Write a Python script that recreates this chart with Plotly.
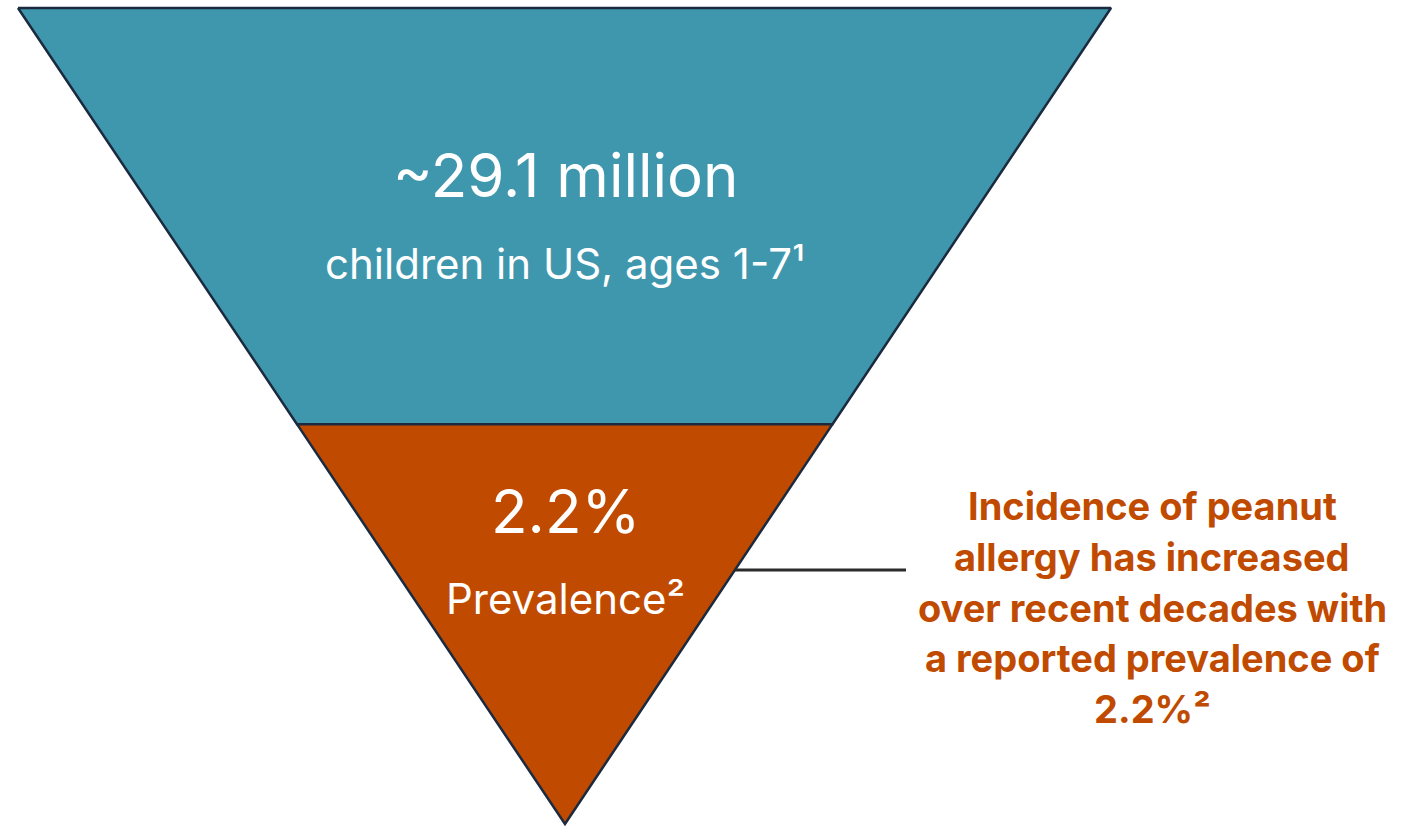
import plotly.graph_objects as go

# ---- data ----
layer_names = ["Children in US, ages 1-7", "Peanut allergy prevalence"]
layer_headlines = ["~29.1 million", "2.2%"]
layer_sublines = ["children in US, ages 1-7¹", "Prevalence²"]
layer_bounds = [0.0, 0.51, 1.0]          # fractional depth of layer boundaries
layer_colors = ["#3F97AD", "#C04B00"]
callout_lines = [
    "Incidence of peanut",
    "allergy has increased",
    "over recent decades with",
    "a reported prevalence of",
    "2.2%²",
]

# ---- geometry (page pixel space) ----
W, H = 1401, 826
TOP_Y, APEX_Y = 8, 824
TOP_L, TOP_R, APEX_X = 18, 1111, 565
OUTLINE = "#1B2A3E"


def edge_x(frac):
    y = TOP_Y + frac * (APEX_Y - TOP_Y)
    xl = TOP_L + frac * (APEX_X - TOP_L)
    xr = TOP_R + frac * (APEX_X - TOP_R)
    return y, xl, xr


fig = go.Figure()
for i, name in enumerate(layer_names):
    y0, l0, r0 = edge_x(layer_bounds[i])
    y1, l1, r1 = edge_x(layer_bounds[i + 1])
    xs = [l0, r0, r1, l1, l0]
    ys = [y0, y0, y1, y1, y0]
    fig.add_trace(go.Scatter(
        x=xs, y=ys, mode="lines", fill="toself",
        fillcolor=layer_colors[i],
        line=dict(color=OUTLINE, width=2.5),
        name=name, hoverinfo="name", showlegend=False,
    ))

# text inside layers
head_offsets = [167, 87]
sub_offsets = [255, 174]
for i in range(len(layer_names)):
    y0, _, _ = edge_x(layer_bounds[i])
    fig.add_annotation(x=APEX_X, y=y0 + head_offsets[i], text=layer_headlines[i],
                       showarrow=False, xanchor="center", yanchor="middle",
                       font=dict(family="Inter", size=60, color="white"))
    fig.add_annotation(x=APEX_X, y=y0 + sub_offsets[i], text=layer_sublines[i],
                       showarrow=False, xanchor="center", yanchor="middle",
                       font=dict(family="Inter", size=42, color="white"))

# connector line from orange layer edge
conn_y = 570
frac = (conn_y - TOP_Y) / (APEX_Y - TOP_Y)
_, _, xr = edge_x(frac)
fig.add_shape(type="line", x0=xr, x1=906, y0=conn_y, y1=conn_y,
              line=dict(color="#2B2B2B", width=3))

# callout text
for k, line in enumerate(callout_lines):
    fig.add_annotation(x=1152, y=506 + k * 50.8, text=line, showarrow=False,
                       xanchor="center", yanchor="middle",
                       font=dict(family="Inter", size=38, color="#C04B00", weight="bold"))

fig.update_xaxes(range=[0, W], visible=False, fixedrange=True)
fig.update_yaxes(range=[H, 0], visible=False, fixedrange=True)
fig.update_layout(width=W, height=H, margin=dict(l=0, r=0, t=0, b=0),
                  plot_bgcolor="white", paper_bgcolor="white")
fig.write_html("out.html")
